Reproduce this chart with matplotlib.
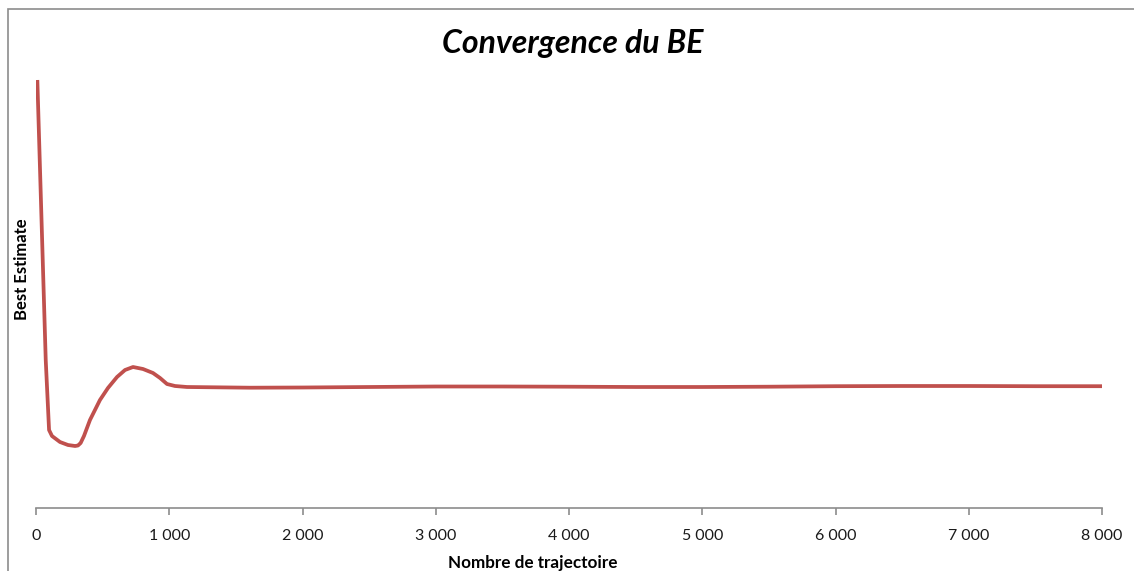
import matplotlib
matplotlib.use("Agg")
import matplotlib.pyplot as plt
from matplotlib.ticker import FuncFormatter
from matplotlib.patches import Rectangle

# Data (arbitrary BE units)
trajectoires = [10, 73, 98, 120, 180, 240, 293, 315, 335, 360, 405, 480, 540, 608, 668, 728,
                803, 878, 931, 983, 1043, 1133, 1606, 2000, 2500, 3000, 3500, 4000, 4500,
                5000, 5500, 6000, 6500, 7000, 7500, 8000]
best_estimate = [428, 148, 78, 72, 66, 63, 62, 62.5, 65, 72, 88, 108, 120, 131, 138, 141,
                 139, 135, 130, 124, 122, 121, 120.3, 120.5, 121, 121.5, 121.5, 121.3, 121,
                 121, 121.3, 121.8, 122, 122, 121.8, 121.8]
xticks = [0, 1000, 2000, 3000, 4000, 5000, 6000, 7000, 8000]

W, H = 1134, 571
fig = plt.figure(figsize=(W / 100, H / 100), dpi=100)
fig.patch.set_facecolor("white")

# outer chart frame
fig.patches.append(Rectangle((8 / W, -0.05), 1.2, 1 - 9 / H + 0.05, transform=fig.transFigure,
                             fill=False, edgecolor="#8c8c8c", linewidth=1.2))

left, right = 36 / W, 1102 / W
bottom, top = (H - 508) / H, 1 - 60 / H
ax = fig.add_axes([left, bottom, right - left, top - bottom])
ax.plot(trajectoires, best_estimate, color="#C0504D", linewidth=2.7, solid_capstyle="butt",
        solid_joinstyle="round")
ax.set_xlim(0, 8000)
ax.set_ylim(0, 448)
ax.set_xticks(xticks)
ax.xaxis.set_major_formatter(FuncFormatter(lambda v, p: f"{int(v):,}".replace(",", "\u202f")))
ax.set_yticks([])
for s in ["left", "right", "top"]:
    ax.spines[s].set_visible(False)
ax.spines["bottom"].set_color("#8c8c8c")
ax.spines["bottom"].set_linewidth(1.2)
ax.tick_params(axis="x", direction="out", length=5, width=1.2, color="#8c8c8c",
               labelsize=11.5, labelcolor="#1a1a1a", pad=10)
for lab in ax.get_xticklabels():
    lab.set_fontfamily(["Lato", "DejaVu Sans"])

fig.text(573 / W, 1 - 44 / H, "Convergence du BE", ha="center", va="center",
         fontsize=23, fontweight="bold", fontstyle="italic", family=["Lato", "DejaVu Sans"])
fig.text(22 / W, 1 - 269 / H, "Best Estimate", ha="center", va="center", rotation=90,
         fontsize=12, fontweight="bold", family=["Lato", "DejaVu Sans"])
fig.text(533 / W, 1 - 563 / H, "Nombre de trajectoire", ha="center", va="center",
         fontsize=12.3, fontweight="bold", family=["Lato", "DejaVu Sans"])

fig.savefig("out.png", dpi=100, facecolor="white")
